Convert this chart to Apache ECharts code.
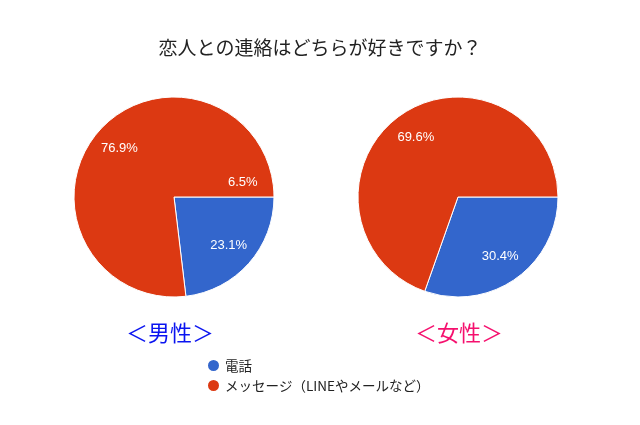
<!DOCTYPE html>
<html>
<head>
<meta charset="utf-8">
<script src="https://cdn.jsdelivr.net/npm/echarts@6/dist/echarts.min.js"></script>
<style>
html,body{margin:0;padding:0;background:#fff;}
#main{width:640px;height:425px;}
</style>
</head>
<body>
<div id="main"></div>
<script>
var categories = ['電話', 'メッセージ（LINEやメールなど）'];
var maleValues = [23.1, 76.9];
var femaleValues = [30.4, 69.6];
var groupLabels = ['＜男性＞', '＜女性＞'];
var strayLabel = '6.5%';

var colors = ['#3366cc', '#dc3912'];
var font = '"Noto Sans CJK JP", "Noto Sans", sans-serif';

function toData(vals) {
    var res = [];
    for (var i = 0; i < vals.length; i++) {
        res.push({name: categories[i], value: vals[i]});
    }
    return res;
}

// 円本体
function pieSeries(vals, center) {
    return {
        type: 'pie',
        center: center,
        radius: 100,
        startAngle: 0,
        clockwise: true,
        data: toData(vals),
        label: {show: false},
        labelLine: {show: false},
        itemStyle: {borderColor: '#fff', borderWidth: 1},
        emphasis: {disabled: true},
        animation: false
    };
}
// ラベルだけの透明な円（ラベルを外寄りに置くため）
function labelSeries(vals, center) {
    return {
        type: 'pie',
        center: center,
        radius: [40, 100],
        startAngle: 0,
        clockwise: true,
        silent: true,
        data: toData(vals),
        itemStyle: {color: 'transparent'},
        label: {
            show: true,
            position: 'inside',
            formatter: function (p) { return p.value.toFixed(1) + '%'; },
            color: '#fff',
            fontSize: 13,
            fontFamily: 'Arial, "Liberation Sans", sans-serif'
        },
        labelLine: {show: false},
        emphasis: {disabled: true},
        animation: false,
        z: 3
    };
}

var chart = echarts.init(document.getElementById('main'));
var option = {
    backgroundColor: '#fff',
    color: colors,
    title: {
        text: '恋人との連絡はどちらが好きですか？',
        left: 'center',
        top: 33,
        textStyle: {fontSize: 19, fontWeight: 'normal', color: '#222', fontFamily: font}
    },
    legend: {
        orient: 'vertical',
        left: 201,
        top: 353,
        icon: 'circle',
        itemWidth: 13,
        itemHeight: 13,
        itemGap: 5,
        data: categories,
        textStyle: {fontSize: 13.5, color: '#222', fontFamily: font},
        selectedMode: false
    },
    graphic: [
        {type: 'text', left: 126, top: 322, style: {text: groupLabels[0], fill: '#0a14f0', fontSize: 22, fontFamily: font}},
        {type: 'text', left: 415, top: 322, style: {text: groupLabels[1], fill: '#f5106e', fontSize: 22, fontFamily: font}},
        {type: 'text', left: 228, top: 176, z: 10, style: {text: strayLabel, fill: '#fff', fontSize: 13, fontFamily: 'Arial, "Liberation Sans", sans-serif'}}
    ],
    series: [
        pieSeries(maleValues, [174, 197]),
        pieSeries(femaleValues, [458, 197]),
        labelSeries(maleValues, [174, 197]),
        labelSeries(femaleValues, [458, 197])
    ]
};
chart.setOption(option);
window.addEventListener('resize', function () {
    chart.resize();
});
</script>
</body>
</html>
